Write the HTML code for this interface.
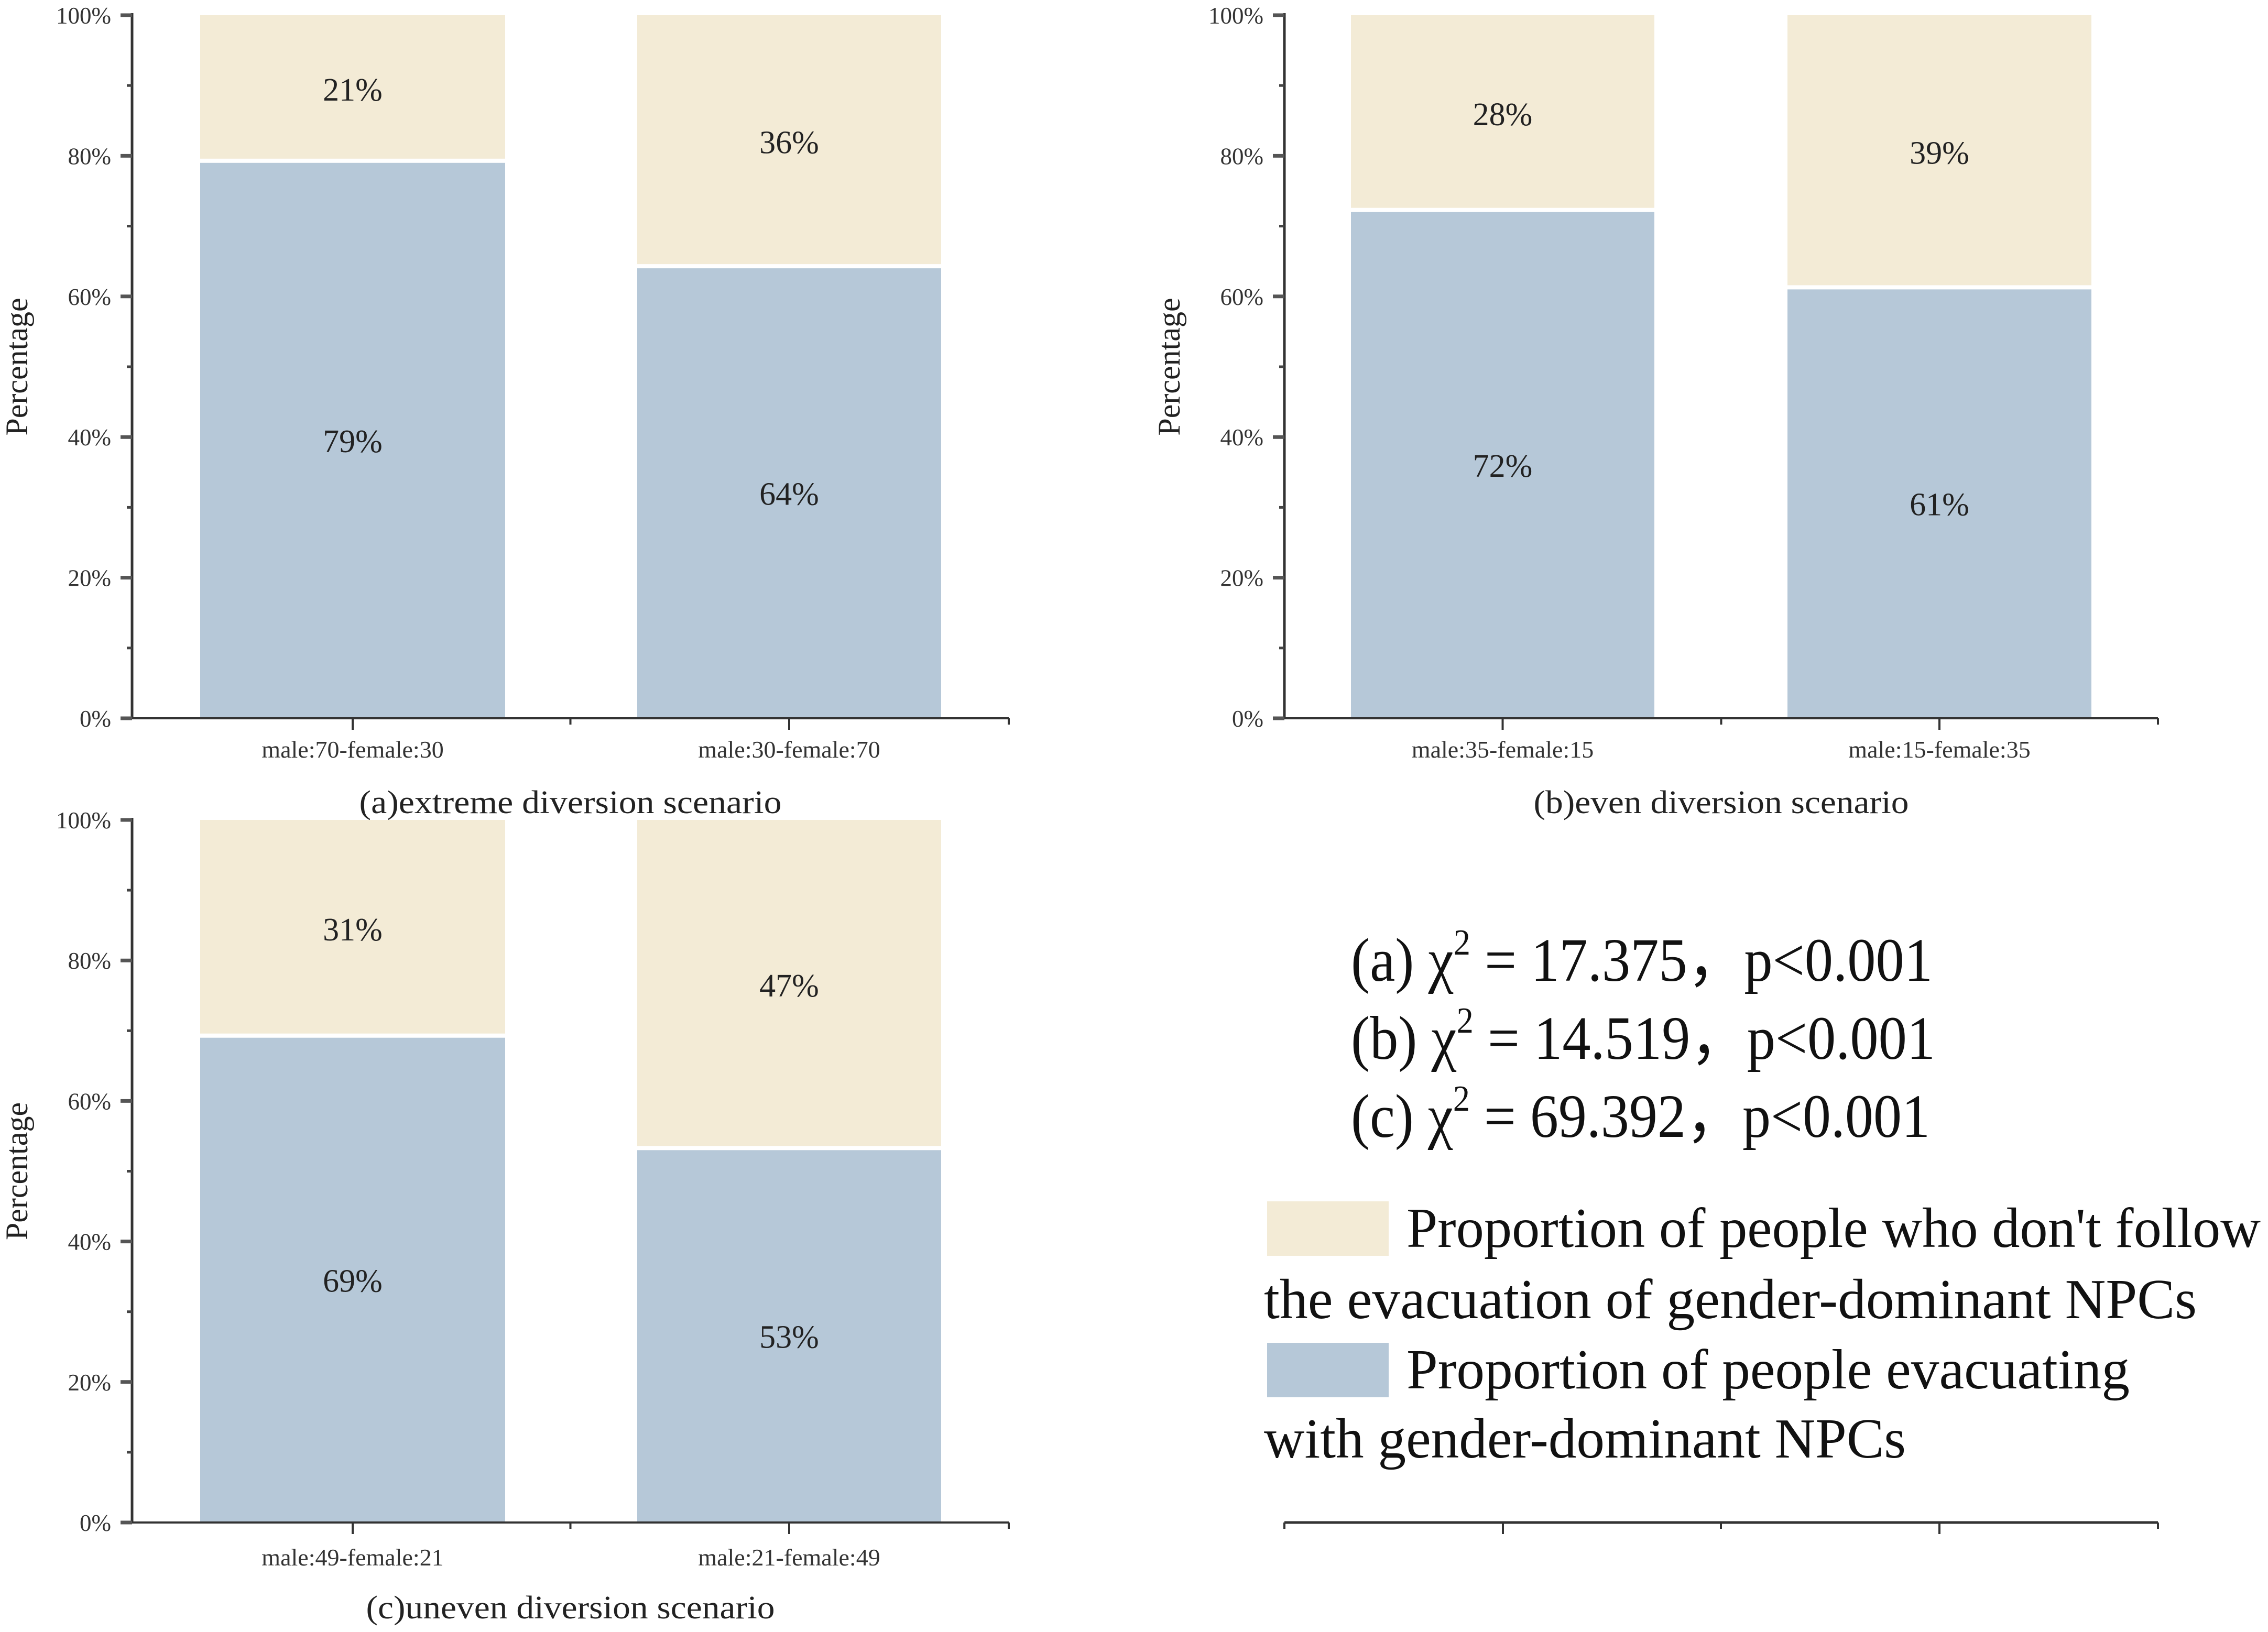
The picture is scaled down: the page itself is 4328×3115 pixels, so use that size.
<!DOCTYPE html>
<html><head><meta charset="utf-8"><style>
html,body{margin:0;padding:0;background:#fff;}
svg{display:block;font-family:"Liberation Serif",serif;}
</style></head><body>
<svg id="chart" width="4328" height="3115" viewBox="0 0 4328 3115" xmlns="http://www.w3.org/2000/svg">
<g font-size="118" fill="#111">
<text x="2578" y="1872" textLength="1110" lengthAdjust="spacingAndGlyphs">(a) χ<tspan font-size="70" dy="-50">2</tspan><tspan dy="50"> = 17.375，p&lt;0.001</tspan></text>
<text x="2578" y="2021" textLength="1115" lengthAdjust="spacingAndGlyphs">(b) χ<tspan font-size="70" dy="-50">2</tspan><tspan dy="50"> = 14.519，p&lt;0.001</tspan></text>
<text x="2578" y="2170" textLength="1105" lengthAdjust="spacingAndGlyphs">(c) χ<tspan font-size="70" dy="-50">2</tspan><tspan dy="50"> = 69.392，p&lt;0.001</tspan></text>
</g>
<g font-size="108" fill="#111">
<rect x="2418" y="2293" width="232" height="104" fill="#f3ebd6"/>
<text x="2684" y="2380" textLength="1630" lengthAdjust="spacingAndGlyphs">Proportion of people who don't follow</text>
<text x="2412" y="2516" textLength="1780" lengthAdjust="spacingAndGlyphs">the evacuation of gender-dominant NPCs</text>
<rect x="2418" y="2563" width="232" height="104" fill="#b6c8d8"/>
<text x="2684" y="2650" textLength="1380" lengthAdjust="spacingAndGlyphs">Proportion of people evacuating</text>
<text x="2412" y="2782" textLength="1225" lengthAdjust="spacingAndGlyphs">with gender-dominant NPCs</text>
</g>
</svg>
<script>
const panelTitles = ["(a)extreme diversion scenario", "(b)even diversion scenario", "(c)uneven diversion scenario"];
const panelCategories = [["male:70-female:30", "male:30-female:70"], ["male:35-female:15", "male:15-female:35"], ["male:49-female:21", "male:21-female:49"]];
const followValues = [[79, 64], [72, 61], [69, 53]];
const notFollowValues = [[21, 36], [28, 39], [31, 47]];
const yTickLabels = ["0%", "20%", "40%", "60%", "80%", "100%"];
const yTickValues = [0, 20, 40, 60, 80, 100];

const NS = "http://www.w3.org/2000/svg";
const svg = document.getElementById("chart");
function mk(tag, attrs, parent) {
  const e = document.createElementNS(NS, tag);
  for (const k in attrs) e.setAttribute(k, attrs[k]);
  (parent || svg).appendChild(e);
  return e;
}
const layouts = [
  {ax: 252, x1: 1925, top: 29, bot: 1371, catY: 1446, titleY: 1552, bars: [[382, 964], [1216, 1796]]},
  {ax: 2451, x1: 4118, top: 29, bot: 1371, catY: 1446, titleY: 1552, bars: [[2578, 3157], [3411, 3991]]},
  {ax: 252, x1: 1925, top: 1565, bot: 2906, catY: 2988, titleY: 3089, bars: [[382, 964], [1216, 1796]]}
];
const titleLens = [806, 716, 780];
layouts.forEach((L, p) => {
  const g = mk("g", {});
  
  
  const y = v => L.bot - (v / 100) * (L.bot - L.top);
  // bars
  followValues[p].forEach((v, i) => {
    const [bx0, bx1] = L.bars[i];
    const cx = (bx0 + bx1) / 2;
    const r1 = mk("rect", {x: bx0, y: y(v), width: bx1 - bx0, height: L.bot - y(v), fill: "#b6c8d8"}, g);
    
    
    const nv = notFollowValues[p][i];
    const r2 = mk("rect", {x: bx0, y: y(v + nv), width: bx1 - bx0, height: y(v) - y(v + nv) - 8, fill: "#f3ebd6"}, g);
    
    
    const t1 = mk("text", {x: cx, y: y(v / 2) + 22, "font-size": 62, "text-anchor": "middle", fill: "#222"}, g);
    t1.textContent = v + "%";
    
    
    const t2 = mk("text", {x: cx, y: y(v + nv / 2) + 22, "font-size": 62, "text-anchor": "middle", fill: "#222"}, g);
    t2.textContent = nv + "%";
    
    
    const ct = mk("text", {x: cx, y: L.catY, "font-size": 46, "text-anchor": "middle", fill: "#333"}, g);
    ct.textContent = panelCategories[p][i];
    
    
    mk("line", {x1: cx, x2: cx, y1: L.bot, y2: L.bot + 22, stroke: "#333", "stroke-width": 4}, g);
  });
  // axes
  const ya = mk("line", {x1: L.ax, x2: L.ax, y1: L.top - 4, y2: L.bot + 2, stroke: "#333", "stroke-width": 5}, g);
  
  
  const xa = mk("line", {x1: L.ax, x2: L.x1, y1: L.bot, y2: L.bot, stroke: "#333", "stroke-width": 4}, g);
  
  
  mk("line", {x1: L.x1, x2: L.x1, y1: L.bot, y2: L.bot + 12, stroke: "#333", "stroke-width": 4}, g);
  mk("line", {x1: (L.ax + L.x1) / 2, x2: (L.ax + L.x1) / 2, y1: L.bot, y2: L.bot + 12, stroke: "#333", "stroke-width": 4}, g);
  for (let v = 10; v < 100; v += 20) mk("line", {x1: L.ax - 10, x2: L.ax, y1: y(v), y2: y(v), stroke: "#444", "stroke-width": 5}, g);
  yTickValues.forEach((v, i) => {
    mk("line", {x1: L.ax - 22, x2: L.ax, y1: y(v), y2: y(v), stroke: "#555", "stroke-width": 7}, g);
    const tl = mk("text", {x: L.ax - 40, y: y(v) + 16, "font-size": 45, "text-anchor": "end", fill: "#333"}, g);
    tl.textContent = yTickLabels[i];
    
    
  });
  const yt = mk("text", {x: 0, y: 0, "font-size": 60, "text-anchor": "middle", fill: "#222", transform: "translate(" + (L.ax - 200) + "," + ((L.top + L.bot) / 2) + ") rotate(-90)"}, g);
  yt.textContent = "Percentage";
  
  
  const tt = mk("text", {x: (L.ax + L.x1) / 2, y: L.titleY, "font-size": 62, "text-anchor": "middle", fill: "#222", textLength: titleLens[p], lengthAdjust: "spacingAndGlyphs"}, g);
  tt.textContent = panelTitles[p];
  
  
});
// empty bottom-right axis
const eg = mk("g", {});


mk("line", {x1: 2451, x2: 4118, y1: 2906, y2: 2906, stroke: "#333", "stroke-width": 5}, eg);
[2451, 4118, 3284].forEach(x => mk("line", {x1: x, x2: x, y1: 2906, y2: 2918, stroke: "#333", "stroke-width": 4}, eg));
[2868, 3701].forEach(x => mk("line", {x1: x, x2: x, y1: 2906, y2: 2928, stroke: "#333", "stroke-width": 4}, eg));
</script>
</body></html>
